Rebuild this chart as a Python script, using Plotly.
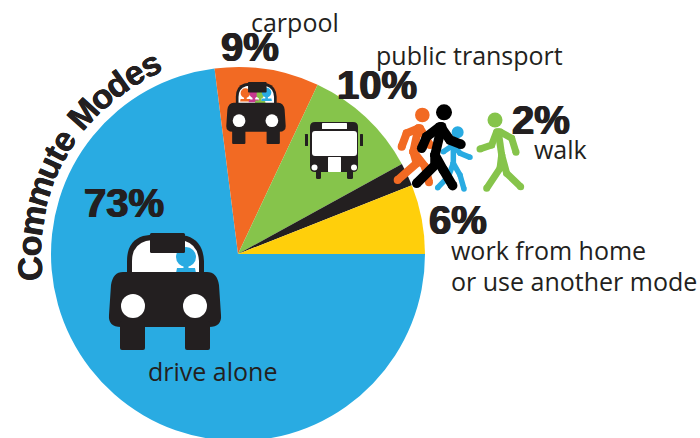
import math
import plotly.graph_objects as go

# ---- data ----
modes = ["drive alone", "carpool", "public transport", "walk", "work from home or use another mode"]
shares = [73, 9, 10, 2, 6]
colors = ["#29abe2", "#f26a23", "#86c44b", "#231f20", "#ffcf0b"]
title_text = "Commute Modes"

W, H = 700, 441
INK = "#231f20"
WHITE = "#ffffff"


def X(p):
    return p / W


def Y(p):
    return 1 - p / H


shapes = []


def poly(cmds, fill):
    """cmds: list of (letter, x, y, ...) in pixel coordinates."""
    out = []
    for c in cmds:
        if c[0] == "Z":
            out.append("Z")
            continue
        nums = c[1:]
        pts = [f"{X(nums[i]):.5f},{Y(nums[i + 1]):.5f}" for i in range(0, len(nums), 2)]
        out.append(c[0] + " ".join(pts))
    shapes.append(dict(type="path", xref="paper", yref="paper", path=" ".join(out),
                       fillcolor=fill, line=dict(width=0), layer="above"))


def circle(cx, cy, r, fill):
    shapes.append(dict(type="circle", xref="paper", yref="paper",
                       x0=X(cx - r), x1=X(cx + r), y0=Y(cy + r), y1=Y(cy - r),
                       fillcolor=fill, line=dict(width=0), layer="above"))


def rrect(x0, y0, x1, y1, r, fill):
    poly([("M", x0 + r, y0), ("L", x1 - r, y0), ("Q", x1, y0, x1, y0 + r),
          ("L", x1, y1 - r), ("Q", x1, y1, x1 - r, y1),
          ("L", x0 + r, y1), ("Q", x0, y1, x0, y1 - r),
          ("L", x0, y0 + r), ("Q", x0, y0, x0 + r, y0), ("Z",)], fill)


def car(cx, top, s, passengers):
    def px(u):
        return cx + u * s

    def py(v):
        return top + v * s

    # cabin
    poly([("M", px(-38), py(42)), ("L", px(-38), py(28)), ("Q", px(-38), py(8), px(-22), py(3)),
          ("Q", px(0), py(-2), px(22), py(3)), ("Q", px(38), py(8), px(39), py(28)),
          ("L", px(39), py(42)), ("Z",)], INK)
    # window
    poly([("M", px(-33), py(40)), ("L", px(-33), py(28)), ("Q", px(-33), py(12), px(-19), py(8)),
          ("Q", px(0), py(4), px(20), py(8)), ("Q", px(33), py(12), px(34), py(28)),
          ("L", px(34), py(40)), ("Z",)], WHITE)
    # occupants
    for (u, v, r, col) in passengers:
        circle(px(u), py(v), r * s, col)
        poly([("M", px(u - 2.5), py(v + 6)), ("L", px(u + 2.5), py(v + 6)), ("L", px(u + 2.5), py(v + 11)),
              ("L", px(u + 9), py(v + 11)), ("L", px(u + 10), py(v + 16)), ("L", px(u - 10), py(v + 16)),
              ("L", px(u - 9), py(v + 11)), ("L", px(u - 2.5), py(v + 11)), ("Z",)], col)
    # mirror
    rrect(px(-15), py(0), px(20), py(20), 1.5 * s, INK)
    # body
    poly([("M", px(-42), py(39)), ("L", px(42), py(39)), ("Q", px(52), py(39), px(54), py(52)),
          ("L", px(56), py(82)), ("Q", px(57), py(94), px(44), py(94)),
          ("L", px(-44), py(94)), ("Q", px(-57), py(94), px(-56), py(82)),
          ("L", px(-54), py(52)), ("Q", px(-52), py(39), px(-42), py(39)), ("Z",)], INK)
    # wheels
    rrect(px(-45), py(88), px(-20), py(117), 2 * s, INK)
    rrect(px(20), py(88), px(45), py(117), 2 * s, INK)
    # headlights
    circle(px(-32), py(73), 12 * s, WHITE)
    circle(px(30), py(73), 12 * s, WHITE)


def limb(points, width, col):
    path = []
    for i, (a, b) in enumerate(points):
        path.append(("M" if i == 0 else "L") + f"{X(385 + a / 3):.5f},{Y(95 + b / 3):.5f}")
    shapes.append(dict(type="path", xref="paper", yref="paper", path=" ".join(path),
                       line=dict(color=col, width=width), layer="above"))
    for a, b in points:
        circle(385 + a / 3, 95 + b / 3, width / 2, col)


def person(head, r, limbs, width, col):
    for l in limbs:
        limb(l, width, col)
    circle(385 + head[0] / 3, 95 + head[1] / 3, r, col)


# ---- icons ----
car(165, 233, 1.0, [(21, 24, 10, colors[0])])
car(256, 82, 0.53, [(-20, 21, 9, colors[1]), (-4, 22, 8, "#c7388f"), (8, 24, 7, colors[2]), (20, 20, 9, colors[0])])

# bus
rrect(316, 165, 321, 179, 1.5, INK)
rrect(347, 165, 353, 179, 1.5, INK)
rrect(310, 122, 358, 172, 5, INK)
rrect(305, 134, 308, 146, 0.5, INK)
rrect(360, 134, 363, 146, 0.5, INK)
rrect(312, 131, 357, 156, 3, WHITE)
rrect(322, 123, 347, 129, 0.5, WHITE)
rrect(328, 157, 341, 172, 0.5, WHITE)
circle(314.5, 167.5, 3, WHITE)
circle(354, 167.5, 3, WHITE)

# walkers
person((112, 60), 7.3, [
    [(100, 100), (85, 170)],
    [(100, 100), (65, 115), (50, 155)],
    [(105, 100), (135, 150)],
    [(85, 170), (95, 205), (38, 255)],
    [(85, 170), (120, 215), (132, 262)],
], 8, colors[1])
person((218, 112), 6, [
    [(205, 150), (205, 205)],
    [(205, 150), (175, 170)],
    [(205, 150), (225, 175), (255, 187)],
    [(205, 205), (190, 245), (158, 278)],
    [(205, 205), (225, 240), (237, 282)],
], 5.5, colors[0])
person((177, 52), 8, [
    [(170, 95), (150, 180)],
    [(165, 95), (125, 125), (110, 160)],
    [(170, 100), (195, 135), (228, 148)],
    [(150, 180), (150, 210), (95, 265)],
    [(150, 180), (175, 225), (203, 272)],
], 9.5, "#000000")
person((330, 75), 7.5, [
    [(340, 110), (350, 180)],
    [(335, 110), (320, 150), (285, 162)],
    [(345, 110), (380, 130), (393, 172)],
    [(350, 180), (345, 220), (305, 280)],
    [(350, 180), (365, 235), (407, 275)],
], 7, colors[2])

# ---- text ----
annotations = []
HEAVY = "Liberation Sans"
LIGHT = "Open Sans"
THICK = f"0.8px 0 0 {INK}, -0.8px 0 0 {INK}"
TITLE_THICK = f"0.35px 0 0 {INK}, -0.35px 0 0 {INK}"


def text(s, x, y, size, family=LIGHT, bold=False, angle=0):
    f = dict(family=family, size=size, color=INK)
    if bold:
        f["weight"] = 700
        f["shadow"] = THICK
    annotations.append(dict(text=s, x=X(x), y=Y(y), xref="paper", yref="paper", xanchor="center",
                            yanchor="middle", showarrow=False, font=f, textangle=angle,
                            borderpad=0, borderwidth=0))


pct_pos = [(123.5, 203), (249.5, 47), (377, 85), (541, 120), (457.5, 220)]
for v, (x, y) in zip(shares, pct_pos):
    text(f"{v}%", x, y, 40, HEAVY, True)

text(modes[0], 212.5, 371, 25)
text(modes[1], 295, 22, 25)
text(modes[2], 470, 55, 25)
text(modes[3], 560.5, 149, 25)
text("work from home", 548, 250, 25)
text("or use another mode", 574, 281, 25)

# curved title: advance one glyph at a time round the pie
adv = {"C": .722, "o": .611, "m": .889, "u": .611, "t": .333, "e": .556, " ": .278,
       "M": .833, "d": .611, "s": .556}
FS = 34
R = 209
CX, CY = 238, 254
pos = math.radians(-4) * R - adv["C"] * FS / 2
for ch in title_text:
    w = adv[ch] * FS
    th = (pos + w / 2) / R
    if ch != " ":
        x = CX - R * math.cos(th)
        y = CY - R * math.sin(th)
        annotations.append(dict(text=ch, x=X(x), y=Y(y), xref="paper", yref="paper", xanchor="center",
                                yanchor="middle", showarrow=False, textangle=math.degrees(th) - 90,
                                font=dict(family=HEAVY, size=FS, color=INK, weight=700, shadow=TITLE_THICK)))
    pos += w

fig = go.Figure(go.Pie(
    labels=modes, values=shares, sort=False, direction="clockwise", rotation=90,
    marker=dict(colors=colors, line=dict(width=0)), textinfo="none", hoverinfo="label+percent",
    domain=dict(x=[51 / W, 425 / W], y=[0, 374 / H]), showlegend=False,
))
fig.update_layout(width=W, height=H, margin=dict(l=0, r=0, t=0, b=0), paper_bgcolor="white",
                  shapes=shapes, annotations=annotations)
fig.write_html("out.html", config=dict(displayModeBar=False),
               post_script="document.documentElement.style.overflow='hidden';document.body.style.overflow='hidden';document.body.style.margin='0';")
